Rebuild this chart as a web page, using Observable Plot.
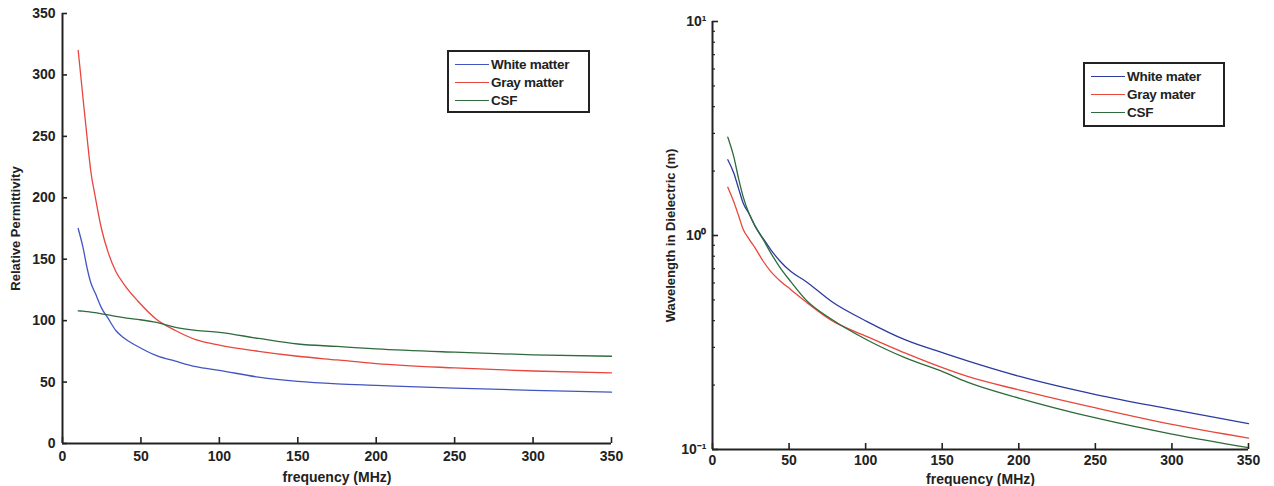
<!DOCTYPE html>
<html>
<head>
<meta charset="utf-8">
<script src="https://cdn.jsdelivr.net/npm/d3@7"></script>
<script src="https://cdn.jsdelivr.net/npm/@observablehq/plot@0.6"></script>
<style>
  body { margin: 0; background: #fff; }
  #wrap { position: relative; width: 1274px; height: 486px; overflow: hidden; font-family: "Liberation Sans", Arial, sans-serif; }
  #wrap svg text { font-weight: bold !important; }
  .panel { position: absolute; top: 0; }
  .legend { position: absolute; border: 2px solid #222; background: #fff; font-weight: bold; font-size: 13.5px; color: #222; padding: 3px 6px 3px 6px; box-sizing: border-box; letter-spacing: -0.3px; }
  .legend .row { display: flex; align-items: center; height: 18px; }
  .legend .sw { width: 34px; height: 0; border-top: 1.5px solid; margin-right: 2px; }
</style>
</head>
<body>
<div id="wrap"></div>
<script>
// ---- Left panel: relative permittivity ----
const seriesNames = ["White matter", "Gray matter", "CSF"];
const seriesNamesRight = ["White mater", "Gray mater", "CSF"];
const freqLeft = [10, 13, 16, 18, 21, 25, 29, 34, 39, 48, 60, 72, 85, 100, 125, 150, 175, 200, 250, 300, 350];
const whiteEps = [175, 160, 141, 131, 122, 110, 102, 92, 86, 79, 71.5, 67, 62.5, 59.5, 54, 50.5, 48.5, 47.3, 45, 43.3, 41.8];
const grayEps  = [320, 282, 245, 222, 200, 174, 156, 140, 130, 116, 101, 92, 84.5, 80, 75, 71, 68, 65, 61.5, 59, 57.5];
const csfEps   = [108, 107.7, 107.4, 107, 106.5, 105.5, 104.7, 103.5, 102.5, 101, 98.5, 94.5, 92, 90.5, 85.5, 81, 79, 77, 74.3, 72.2, 71];

// ---- Right panel: wavelength in dielectric (m) ----
const freqRight = [10, 14, 17, 20, 24, 28, 33, 38, 44, 51, 61, 78, 101, 126, 151, 166, 200, 251, 300, 350];
const whiteLam = [2.26, 1.95, 1.66, 1.42, 1.26, 1.10, 0.97, 0.86, 0.76, 0.68, 0.61, 0.49, 0.396, 0.325, 0.282, 0.26, 0.22, 0.18, 0.154, 0.132];
const grayLam  = [1.68, 1.43, 1.24, 1.07, 0.96, 0.87, 0.76, 0.68, 0.615, 0.56, 0.49, 0.40, 0.337, 0.282, 0.24, 0.22, 0.19, 0.156, 0.131, 0.113];
const csfLam   = [2.88, 2.32, 1.85, 1.52, 1.26, 1.10, 0.96, 0.83, 0.71, 0.61, 0.50, 0.405, 0.325, 0.268, 0.23, 0.207, 0.174, 0.14, 0.118, 0.102];

const xTicks = [0, 50, 100, 150, 200, 250, 300, 350];
const yTicksLeft = [0, 50, 100, 150, 200, 250, 300, 350];
const yMajorRight = [0.1, 1, 10];
const yMajorLabels = ["10\u207B\u00B9", "10\u2070", "10\u00B9"];
const yMinorRight = [0.2,0.3,0.4,0.5,0.6,0.7,0.8,0.9,2,3,4,5,6,7,8,9];

const colorsLeft = ["#4255c2", "#e8453c", "#2f6b3d"];
const colorsRight = ["#2d3b9e", "#e8473b", "#2e6a3b"];

function toRows(freq, arrays, names) {
  const rows = [];
  arrays.forEach((arr, i) => arr.forEach((v, j) => rows.push({f: freq[j], v, s: names[i]})));
  return rows;
}
const leftRows = toRows(freqLeft, [whiteEps, grayEps, csfEps], seriesNames);
const rightRows = toRows(freqRight, [whiteLam, grayLam, csfLam], seriesNamesRight);

const fontStyle = {fontFamily: "'Liberation Sans', Arial, sans-serif", fontWeight: "bold", fontSize: "14px", color: "#222", background: "transparent", overflow: "visible"};

// frame sizes (px) used only for inward tick insets
const LW = 549, LH = 430, RW = 536, RH = 428;

const left = Plot.plot({
  width: 637, height: 486,
  marginLeft: 62, marginRight: 26, marginTop: 13, marginBottom: 43,
  style: fontStyle,
  x: {domain: [0, 350]},
  y: {domain: [0, 350]},
  color: {domain: seriesNames, range: colorsLeft},
  marks: [
    Plot.lineY(leftRows, {x: "f", y: "v", stroke: "s", strokeWidth: 1.3, curve: "monotone-x"}),
    Plot.tickX(xTicks, {x: d => d, insetTop: LH - 6, stroke: "#222", strokeWidth: 1.6}),
    Plot.tickY(yTicksLeft, {y: d => d, insetRight: LW - 5, stroke: "#222", strokeWidth: 1.6}),
    Plot.ruleX([0], {stroke: "#222", strokeWidth: 2}),
    Plot.ruleY([0], {stroke: "#222", strokeWidth: 2}),
    Plot.axisX({ticks: xTicks, tickSize: 0, tickPadding: 8, fontSize: 14, fontWeight: "bold", label: "frequency (MHz)", labelAnchor: "center", labelOffset: 38, labelArrow: "none"}),
    Plot.axisY({ticks: yTicksLeft, tickSize: 0, tickPadding: 7, fontSize: 14, fontWeight: "bold", label: null}),
    Plot.text(["Relative Permittivity"], {frameAnchor: "left", textAnchor: "middle", dx: -47, rotate: -90, fontSize: 13, fontWeight: "bold", fill: "#222"})
  ]
});

const right = Plot.plot({
  width: 637, height: 486,
  marginLeft: 75, marginRight: 26, marginTop: 21, marginBottom: 37,
  style: fontStyle,
  x: {domain: [0, 350]},
  y: {type: "log", domain: [0.1, 10]},
  color: {domain: seriesNamesRight, range: colorsRight},
  marks: [
    Plot.lineY(rightRows, {x: "f", y: "v", stroke: "s", strokeWidth: 1.3, curve: "monotone-x"}),
    Plot.tickX(xTicks, {x: d => d, insetTop: RH - 6, stroke: "#222", strokeWidth: 1.6}),
    Plot.tickY(yMajorRight, {y: d => d, insetRight: RW - 6, stroke: "#222", strokeWidth: 1.6}),
    Plot.tickY(yMinorRight, {y: d => d, insetRight: RW - 3, stroke: "#222", strokeWidth: 1.2}),
    Plot.ruleX([0], {stroke: "#222", strokeWidth: 2}),
    Plot.ruleY([0.1], {stroke: "#222", strokeWidth: 2}),
    Plot.axisX({ticks: xTicks, tickSize: 0, tickPadding: 6, fontSize: 14, fontWeight: "bold", label: "frequency (MHz)", labelAnchor: "center", labelOffset: 34, labelArrow: "none"}),
    Plot.axisY({ticks: yMajorRight, tickFormat: d => yMajorLabels[yMajorRight.indexOf(d)], tickSize: 0, tickPadding: 6, fontSize: 14, fontWeight: "bold", label: null}),
    Plot.text(["Wavelength in Dielectric (m)"], {frameAnchor: "left", textAnchor: "middle", dx: -42, rotate: -90, fontSize: 13, fontWeight: "bold", fill: "#222"})
  ]
});

const wrap = document.getElementById("wrap");
const p1 = document.createElement("div"); p1.className = "panel"; p1.style.left = "0px"; p1.appendChild(left);
const p2 = document.createElement("div"); p2.className = "panel"; p2.style.left = "637px"; p2.appendChild(right);
wrap.appendChild(p1); wrap.appendChild(p2);

function legend(names, colors, x, y, w, h) {
  const L = document.createElement("div");
  L.className = "legend";
  Object.assign(L.style, {left: x + "px", top: y + "px", width: w + "px", height: h + "px"});
  names.forEach((n, i) => {
    const r = document.createElement("div"); r.className = "row";
    const sw = document.createElement("div"); sw.className = "sw"; sw.style.borderTopColor = colors[i];
    const t = document.createElement("span"); t.textContent = n;
    r.appendChild(sw); r.appendChild(t); L.appendChild(r);
  });
  wrap.appendChild(L);
}
legend(seriesNames, colorsLeft, 447, 50, 143, 63);
legend(seriesNamesRight, colorsRight, 1083, 62, 142, 65);
</script>
</body>
</html>
